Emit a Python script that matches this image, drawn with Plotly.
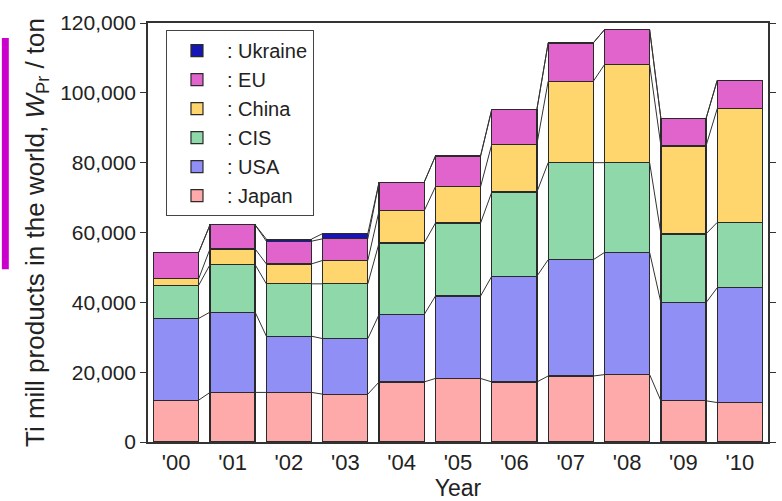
import plotly.graph_objects as go

years = ["'00", "'01", "'02", "'03", "'04", "'05", "'06", "'07", "'08", "'09", "'10"]
japan = [12000, 14200, 14200, 13700, 17200, 18200, 17200, 18900, 19300, 11800, 11300]
usa = [23400, 23000, 16100, 15900, 19300, 23600, 30300, 33300, 35000, 28100, 32900]
cis = [9500, 13600, 15000, 15700, 20500, 20900, 24100, 27800, 25700, 19700, 18700]
china = [1900, 4500, 5700, 6700, 9200, 10400, 13700, 23300, 28100, 25200, 32600]
eu = [7500, 6900, 6500, 6200, 8200, 8800, 10000, 11000, 10000, 7800, 8100]
ukraine = [0, 0, 600, 1500, 0, 0, 0, 0, 0, 0, 0]

series = [
    (": Japan", japan, "#FFAAAA"),
    (": USA", usa, "#8F8FF6"),
    (": CIS", cis, "#8ED8A9"),
    (": China", china, "#FFD56E"),
    (": EU", eu, "#E064CC"),
    (": Ukraine", ukraine, "#1616B4"),
]

FONT = "Liberation Sans, Arial, sans-serif"
xs = list(range(len(years)))
bar_w = 0.8

fig = go.Figure()
for name, vals, col in series:
    fig.add_trace(go.Bar(
        x=xs, y=vals, name=name, width=bar_w,
        marker=dict(color=col, line=dict(color="#2a2a2a", width=1.2)),
    ))

# connecting lines between neighbouring bars at each cumulative level
cum = [0] * len(years)
lx, ly = [], []
for name, vals, col in series:
    cum = [c + v for c, v in zip(cum, vals)]
    for i in range(len(years) - 1):
        lx += [xs[i] + bar_w / 2, xs[i + 1] - bar_w / 2, None]
        ly += [cum[i], cum[i + 1], None]
fig.add_trace(go.Scatter(x=lx, y=ly, mode="lines", showlegend=False,
                         line=dict(color="#333333", width=1), hoverinfo="skip"))

fig.update_layout(
    width=782, height=501,
    margin=dict(l=148, r=6, t=23, b=58),
    barmode="stack",
    paper_bgcolor="white", plot_bgcolor="white",
    font=dict(family=FONT, color="#222222", size=21),
    legend=dict(
        x=0.029, y=0.983, xanchor="left", yanchor="top",
        traceorder="reversed",
        bgcolor="white", bordercolor="#444444", borderwidth=1,
        font=dict(size=20, family=FONT, color="#222222"),
        itemwidth=50,
    ),
    xaxis=dict(
        range=[-0.5, 10.5], tickmode="array", tickvals=xs, ticktext=years,
        showline=True, linecolor="#333333", linewidth=1.5, mirror=True,
        ticks="", showgrid=False, zeroline=False,
        tickfont=dict(size=22),
        title=dict(text="Year", font=dict(size=23), standoff=4),
    ),
    yaxis=dict(
        range=[0, 120000], tickvals=[0, 20000, 40000, 60000, 80000, 100000, 120000],
        tickformat=",d",
        showline=True, linecolor="#333333", linewidth=1.5, mirror="ticks",
        ticks="outside", ticklen=6, tickcolor="#333333",
        showgrid=False, zeroline=False,
        tickfont=dict(size=21),
        title=dict(text="Ti mill products in the world, <i>W</i><sub>Pr</sub> / ton",
                   font=dict(size=26), standoff=8),
    ),
    shapes=[dict(type="rect", xref="paper", yref="paper",
                 x0=-0.2357, x1=-0.2245, y0=0.412, y1=0.964,
                 fillcolor="#CC00CC", line=dict(width=0), layer="above")],
)

fig.write_html("out.html")
